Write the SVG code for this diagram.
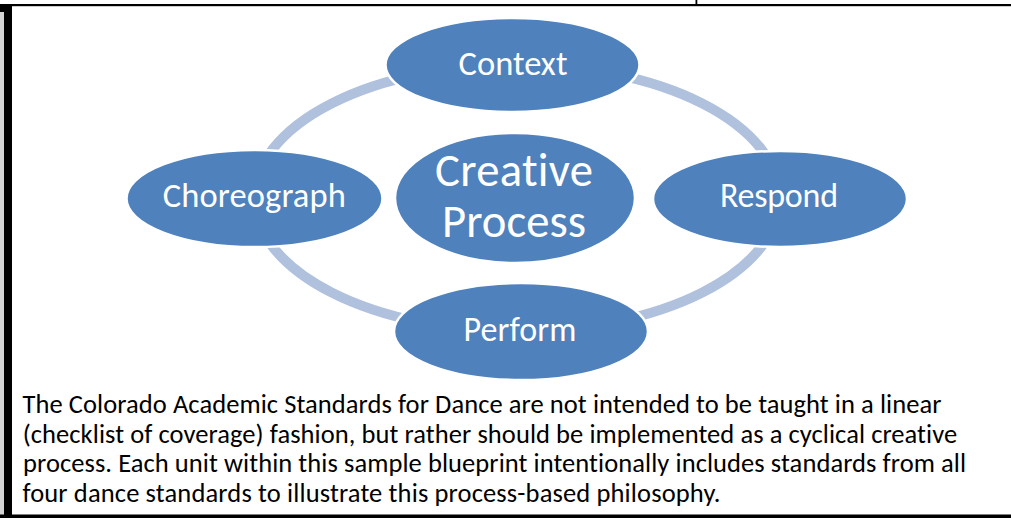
<svg xmlns="http://www.w3.org/2000/svg" width="1011" height="518" viewBox="0 0 1011 518">
<style>
.node{fill:#4f81bd;stroke:#ffffff;stroke-width:2.5}
.lbl{font-family:Carlito,Lato,"Noto Sans",sans-serif;fill:#ffffff;text-anchor:middle;font-variant-ligatures:none}
.ring{fill:none;stroke:#b0c1de;stroke-width:10}
.body{font-family:Carlito,Lato,"Noto Sans",sans-serif;font-size:26.5px;fill:#000000;font-variant-ligatures:none}
.ln{fill:#000000}
</style>
<rect x="0" y="0" width="1011" height="518" fill="#ffffff"/>
<g id="frame">
<rect x="0" y="12" width="4" height="503" fill="#d4d4d4"/>
<rect class="ln" x="695.5" y="0" width="1.8" height="5"/>
<rect class="ln" x="0" y="4" width="1011" height="2.2"/>
<rect class="ln" x="0" y="4" width="12" height="8"/>
<rect class="ln" x="4" y="4" width="8" height="514"/>
<rect class="ln" x="0" y="514.5" width="1011" height="3.5"/>
</g>
<g id="connectors">
<path class="ring" d="M 517 64.5 A 262.5 133.5 0 0 1 779.5 198"/>
<path class="ring" d="M 779.5 198 A 262.5 133.5 0 0 1 517 331.5"/>
<path class="ring" d="M 517 331.5 A 262.5 133.5 0 0 1 254.5 198"/>
<path class="ring" d="M 254.5 198 A 262.5 133.5 0 0 1 517 64.5"/>
</g>
<g id="context">
<ellipse class="node" cx="512.5" cy="65" rx="127" ry="47"/>
<text class="lbl" x="513" y="74.5" font-size="34.5" textLength="109" lengthAdjust="spacing">Context</text>
</g>
<g id="respond">
<ellipse class="node" cx="780" cy="199" rx="127" ry="48"/>
<text class="lbl" x="779" y="207" font-size="34" textLength="118" lengthAdjust="spacing">Respond</text>
</g>
<g id="perform">
<ellipse class="node" cx="521" cy="331.5" rx="127" ry="48.5"/>
<text class="lbl" x="520" y="341" font-size="34" textLength="113" lengthAdjust="spacing">Perform</text>
</g>
<g id="choreograph">
<ellipse class="node" cx="254.5" cy="198.5" rx="128" ry="48.5"/>
<text class="lbl" x="254.3" y="207" font-size="34.5" textLength="183" lengthAdjust="spacing">Choreograph</text>
</g>
<g id="creative-process">
<ellipse class="node" cx="515" cy="198" rx="120" ry="65"/>
<text class="lbl" x="514" y="186" font-size="46.7" textLength="158" lengthAdjust="spacing">Creative</text>
<text class="lbl" x="514" y="237" font-size="46.7" textLength="144" lengthAdjust="spacing">Process</text>
</g>
<g id="caption">
<text class="body" x="22.5" y="413" textLength="919" lengthAdjust="spacing">The Colorado Academic Standards for Dance are not intended to be taught in a linear</text>
<text class="body" x="22.7" y="442.5" textLength="934.5" lengthAdjust="spacing">(checklist of coverage) fashion, but rather should be implemented as a cyclical creative</text>
<text class="body" x="23" y="472" textLength="943" lengthAdjust="spacing">process. Each unit within this sample blueprint intentionally includes standards from all</text>
<text class="body" x="22.5" y="501.5" textLength="698" lengthAdjust="spacing">four dance standards to illustrate this process-based philosophy.</text>
</g>
</svg>
